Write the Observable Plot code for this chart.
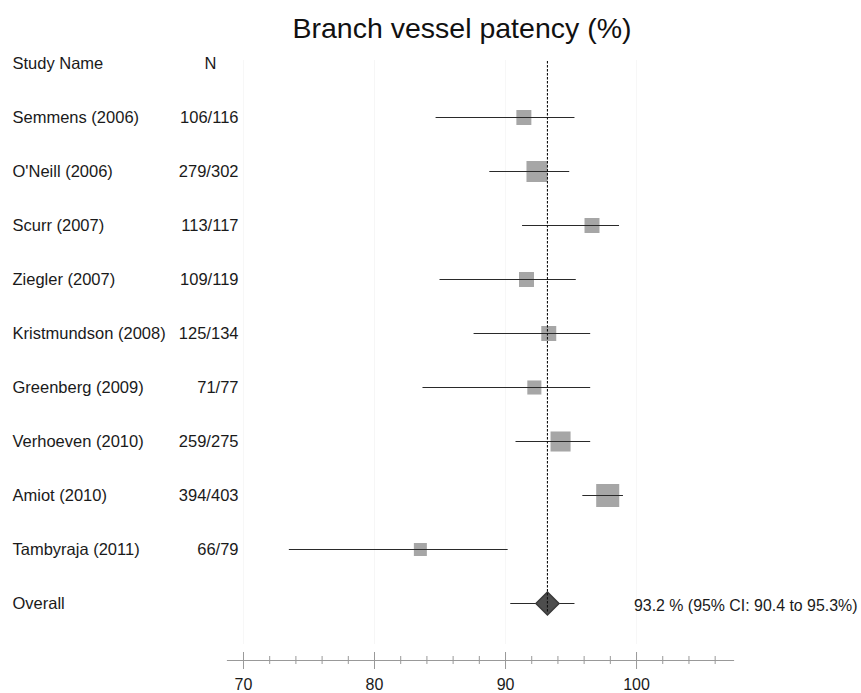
<!DOCTYPE html>
<html><head><meta charset="utf-8">
<script src="https://cdn.jsdelivr.net/npm/d3@7"></script>
<script src="https://cdn.jsdelivr.net/npm/@observablehq/plot@0.6"></script>
<style>
body{margin:0;background:#fff;font-family:"Liberation Sans",Arial,sans-serif;}
#wrap{position:relative;width:861px;height:693px;}
#title{position:absolute;left:0;top:11px;width:861px;padding-left:63px;box-sizing:border-box;text-align:center;font-size:28.5px;line-height:34px;color:#111;}
#chart svg{display:block;}
</style></head><body>
<div id="wrap"><div id="chart"></div><div id="title">Branch vessel patency (%)</div></div>
<script>
const studies = ["Semmens (2006)", "O'Neill (2006)", "Scurr (2007)", "Ziegler (2007)", "Kristmundson (2008)", "Greenberg (2009)", "Verhoeven (2010)", "Amiot (2010)", "Tambyraja (2011)"];
const nLabels = ["106/116", "279/302", "113/117", "109/119", "125/134", "71/77", "259/275", "394/403", "66/79"];
const estimates = [91.4, 92.4, 96.6, 91.6, 93.3, 92.2, 94.2, 97.8, 83.5];
const lower = [84.7, 88.8, 91.3, 85.0, 87.6, 83.7, 90.8, 95.9, 73.5];
const upper = [95.3, 94.9, 98.7, 95.4, 96.5, 96.5, 96.5, 99.0, 90.2];
const weights = [8.5, 16.7, 8.5, 8.5, 8.5, 7.5, 15.2, 20.1, 6.4];
const headerLabels = ["Study Name", "N"];
const overallLabel = "Overall";
const overallEstimate = 93.2;
const overallLower = 90.4;
const overallUpper = 95.3;
const overallText = "93.2 % (95% CI: 90.4 to 95.3%)";
const majorTicks = [70, 80, 90, 100];
const minorTicks = [72, 74, 76, 78, 82, 84, 86, 88, 92, 94, 96, 98, 102, 104, 106];

const rows = studies.map((s, i) => ({study: s, n: nLabels[i], est: estimates[i], lo: lower[i], hi: upper[i], w: weights[i]}));
const overall = [{label: overallLabel, est: overallEstimate, lo: overallLower, hi: overallUpper, txt: overallText}];
const header = [{key: headerLabels[0], name: headerLabels[0], n: headerLabels[1]}];
const dashed = [{x: overallEstimate, from: headerLabels[0], to: overallLabel}];
const yDomain = [headerLabels[0], ...studies, overallLabel];
const font = "Liberation Sans, Arial, sans-serif";
const txt = "#1a1a1a";

const chart = Plot.plot({
  width: 861,
  height: 693,
  marginLeft: 227,
  marginRight: 128,
  marginTop: 60,
  marginBottom: 33,
  style: {fontFamily: font, background: "#fff"},
  x: {domain: [68.78, 107.4], axis: null},
  y: {type: "point", domain: yDomain, range: [60, 605], padding: 0, axis: null},
  r: {type: "sqrt", domain: [0, 20.1], range: [0, 13]},
  marks: [
    Plot.gridX(majorTicks, {stroke: "#000", strokeOpacity: 0.035, insetBottom: 16}),
    Plot.dot(rows, {x: "est", y: "study", r: "w", symbol: "square", fill: "#a6a6a6"}),
    Plot.ruleY(rows, {y: "study", x1: "lo", x2: "hi", stroke: "#2a2a2a", strokeWidth: 1.2}),
    Plot.ruleY(overall, {y: "label", x1: "lo", x2: "hi", stroke: "#2a2a2a", strokeWidth: 1.2}),
    Plot.dot(overall, {x: "est", y: "label", symbol: "diamond2", r: 10.4, fill: "#4d4d4d", stroke: "#3a3a3a"}),
    Plot.ruleX(dashed, {x: "x", y1: "from", y2: "to", stroke: "#111", strokeWidth: 1.1, strokeDasharray: "2.5,1.5", insetTop: -2, insetBottom: -10}),
    Plot.text(header, {y: "key", text: "name", frameAnchor: "left", dx: -215, textAnchor: "start", fontSize: 16.5, fill: txt}),
    Plot.text(header, {y: "key", text: "n", frameAnchor: "left", dx: -17, textAnchor: "middle", fontSize: 16.5, fill: txt}),
    Plot.text(rows, {y: "study", text: "study", frameAnchor: "left", dx: -215, textAnchor: "start", fontSize: 16.5, fill: txt}),
    Plot.text(rows, {y: "study", text: "n", frameAnchor: "left", dx: 11, textAnchor: "end", fontSize: 16.5, fill: txt}),
    Plot.text(overall, {y: "label", text: "label", frameAnchor: "left", dx: -215, textAnchor: "start", fontSize: 16.5, fill: txt}),
    Plot.text(overall, {x: "hi", y: "label", text: "txt", dx: 59, dy: 2, textAnchor: "start", fontSize: 15.9, fill: txt}),
    Plot.frame({anchor: "bottom", stroke: "#999", strokeWidth: 1.2}),
    Plot.axisX(majorTicks, {anchor: "bottom", tickSize: 17, dy: -8, tickFormat: () => "", stroke: "#999"}),
    Plot.axisX(minorTicks, {anchor: "bottom", tickSize: 8, dy: -4, tickFormat: () => "", stroke: "#999"}),
    Plot.axisX(majorTicks, {anchor: "bottom", tickSize: 0, tickPadding: 18, fontSize: 16, fill: txt, label: null})
  ]
});
document.getElementById("chart").appendChild(chart);
</script>
</body></html>
